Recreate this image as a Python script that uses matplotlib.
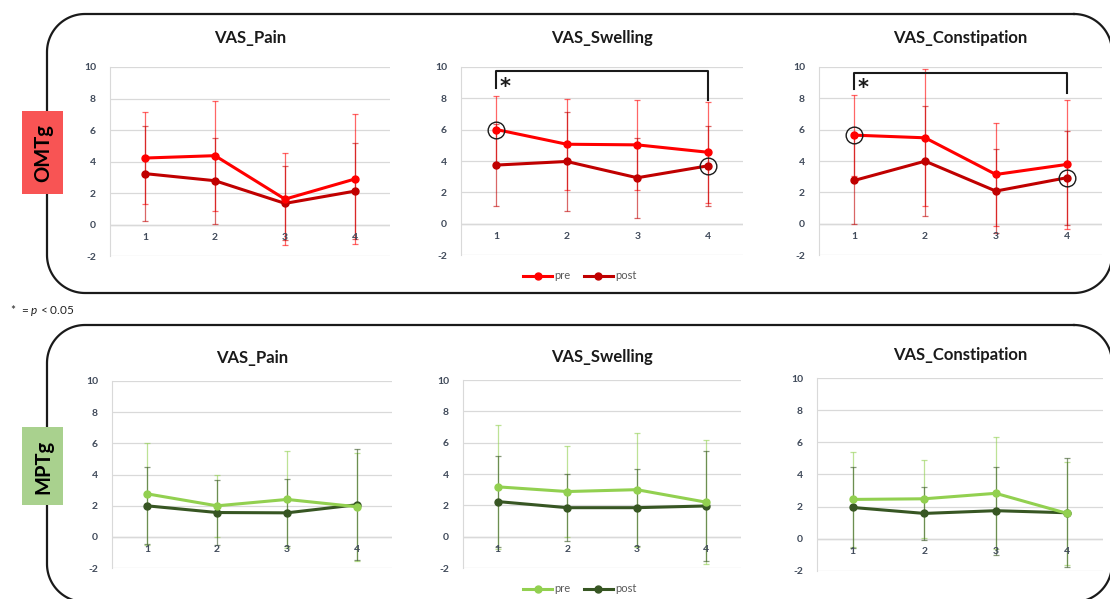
import matplotlib.pyplot as plt
import numpy as np
from matplotlib.patches import Rectangle

# %% DATA
visits = [1, 2, 3, 4]
titles = ["VAS_Pain", "VAS_Swelling", "VAS_Constipation"]
y_ticks = [-2, 0, 2, 4, 6, 8, 10]

omt_pain_pre = [4.22, 4.37, 1.61, 2.89]
omt_pain_pre_sd = [2.91, 3.50, 2.91, 4.14]
omt_pain_post = [3.23, 2.78, 1.34, 2.12]
omt_pain_post_sd = [3.00, 2.72, 2.35, 3.06]

omt_swell_pre = [6.01, 5.07, 5.03, 4.56]
omt_swell_pre_sd = [2.14, 2.91, 2.89, 3.21]
omt_swell_post = [3.74, 3.97, 2.93, 3.69]
omt_swell_post_sd = [2.59, 3.16, 2.57, 2.55]

omt_const_pre = [5.65, 5.48, 3.14, 3.78]
omt_const_pre_sd = [2.59, 4.37, 3.31, 4.14]
omt_const_post = [2.76, 3.99, 2.08, 2.93]
omt_const_post_sd = [2.76, 3.50, 2.70, 2.99]

mpt_pain_pre = [2.76, 1.99, 2.40, 1.93]
mpt_pain_pre_sd = [3.28, 1.97, 3.10, 3.46]
mpt_pain_post = [1.99, 1.56, 1.54, 2.06]
mpt_pain_post_sd = [2.46, 2.08, 2.16, 3.57]

mpt_swell_pre = [3.18, 2.88, 3.00, 2.20]
mpt_swell_pre_sd = [3.94, 2.92, 3.63, 3.96]
mpt_swell_post = [2.24, 1.85, 1.85, 1.96]
mpt_swell_post_sd = [2.92, 2.12, 2.46, 3.50]

mpt_const_pre = [2.45, 2.49, 2.83, 1.58]
mpt_const_pre_sd = [2.93, 2.42, 3.49, 3.18]
mpt_const_post = [1.95, 1.58, 1.75, 1.62]
mpt_const_post_sd = [2.54, 1.66, 2.74, 3.39]

# significance brackets (top, left leg end, right leg end) for OMTg panels
brackets = {1: (9.72, 8.68, 7.88), 2: (9.62, 8.62, 8.34)}

# %% STYLE
plt.rcParams["font.family"] = ["Lato", "DejaVu Sans"]
plt.rcParams["mathtext.fontset"] = "custom"
plt.rcParams["mathtext.it"] = "Lato:italic"
plt.rcParams["axes.unicode_minus"] = False

W, H = 1110, 599
fig = plt.figure(figsize=(W / 100, H / 100), dpi=100)

# background axes in pixel coordinates for boxes and labels
bg = fig.add_axes([0, 0, 1, 1])
bg.set_xlim(0, W)
bg.set_ylim(H, 0)
bg.set_axis_off()


def rounded_box(x0, y0, x1, y1, r):
    # Corner centres walked clockwise on screen (y grows downward)
    corners = [
        (x1 - r, y0 + r, -90, 0),
        (x1 - r, y1 - r, 0, 90),
        (x0 + r, y1 - r, 90, 180),
        (x0 + r, y0 + r, 180, 270),
    ]
    xs, ys = [], []
    for cx, cy, a0, a1 in corners:
        t = np.radians(np.linspace(a0, a1, 30))
        xs.extend(cx + r * np.cos(t))
        ys.extend(cy + r * np.sin(t))
    xs.append(xs[0])
    ys.append(ys[0])
    bg.plot(xs, ys, color="#1a1a1a", lw=1.6, zorder=1)


rounded_box(47, 14, 1112, 293, 38)
rounded_box(47, 325, 1112, 602, 38)

bg.add_patch(Rectangle((22, 111), 41, 83, fc="#F85454", ec="none", zorder=2))
bg.text(43, 153, "OMTg", rotation=90, ha="center", va="center",
        fontsize=14.5, fontweight="bold", color="black", zorder=3)
bg.add_patch(Rectangle((22, 427), 41, 78, fc="#A9D18E", ec="none", zorder=2))
bg.text(43, 467, "MPTg", rotation=90, ha="center", va="center",
        fontsize=14.5, fontweight="bold", color="black", zorder=3)
bg.text(10, 311, "*  = $p$ < 0.05", ha="left", va="center", fontsize=8.5,
        color="#222222")


def px_axes(left, top, right, bottom):
    return fig.add_axes(
        [left / W, 1 - bottom / H, (right - left) / W, (bottom - top) / H]
    )


top_rects = [(110, 67, 390, 256), (461, 67, 743, 255), (819, 67, 1102, 255)]
bot_rects = [(112, 381, 392, 568), (463, 380, 741, 568), (817, 378, 1103, 571)]

omt_series = [
    (omt_pain_pre, omt_pain_pre_sd, omt_pain_post, omt_pain_post_sd),
    (omt_swell_pre, omt_swell_pre_sd, omt_swell_post, omt_swell_post_sd),
    (omt_const_pre, omt_const_pre_sd, omt_const_post, omt_const_post_sd),
]
mpt_series = [
    (mpt_pain_pre, mpt_pain_pre_sd, mpt_pain_post, mpt_pain_post_sd),
    (mpt_swell_pre, mpt_swell_pre_sd, mpt_swell_post, mpt_swell_post_sd),
    (mpt_const_pre, mpt_const_pre_sd, mpt_const_post, mpt_const_post_sd),
]

groups = [
    (top_rects, omt_series, "#FF0000", "#C00000", 276),
    (bot_rects, mpt_series, "#92D050", "#375623", 589),
]

for g, (rects, series, c_pre, c_post, leg_y) in enumerate(groups):
    for i, (rect, (pre, pre_sd, post, post_sd)) in enumerate(zip(rects, series)):
        ax = px_axes(*rect)
        ax.set_xlim(0.5, 4.5)
        ax.set_ylim(-2, 10)
        ax.set_yticks(y_ticks)
        ax.set_xticks([])
        ax.tick_params(axis="y", length=0, labelsize=7.5, labelcolor="#404a5a", pad=10)
        for lab in ax.get_yticklabels():
            lab.set_fontweight("bold")
        for s in ["top", "right", "bottom"]:
            ax.spines[s].set_visible(False)
        ax.spines["left"].set_color("#D9D9D9")
        ax.grid(axis="y", color="#D9D9D9", lw=0.9)
        ax.axhline(0, color="#BFBFBF", lw=0.9, zorder=1)
        ax.set_title(titles[i], fontsize=12, fontweight="bold", color="#1a1a1a",
                     pad=17 if g == 0 else 13)

        ax.errorbar(visits, pre, yerr=pre_sd, fmt="none", ecolor=c_pre,
                    elinewidth=0.9, capsize=2.5, capthick=0.9, alpha=0.6, zorder=2)
        ax.errorbar(visits, post, yerr=post_sd, fmt="none", ecolor=c_post,
                    elinewidth=0.9, capsize=2.5, capthick=0.9, alpha=0.6, zorder=2)
        ax.plot(visits, pre, "-o", color=c_pre, lw=2.2, ms=5, zorder=4, label="pre")
        ax.plot(visits, post, "-o", color=c_post, lw=2.2, ms=5, zorder=3, label="post")

        for v in visits:
            ax.annotate(str(v), (v, 0), xytext=(0, -6), textcoords="offset points",
                        ha="center", va="top", fontsize=7.5, fontweight="bold",
                        color="#404a5a", zorder=5)

        if g == 0 and i in brackets:
            top_y, left_y, right_y = brackets[i]
            ax.plot([1, 1, 4, 4], [left_y, top_y, top_y, right_y], color="#1a1a1a",
                    lw=1.5, clip_on=False, zorder=5)
            ax.text(1.05, left_y + 0.05, "*", fontsize=15, fontweight="bold",
                    family="DejaVu Sans", ha="left", va="center", color="#1a1a1a")
            ax.plot([visits[0]], [pre[0]], "o", mfc="none", mec="#1a1a1a", ms=12,
                    mew=1.0, zorder=6)
            ax.plot([visits[3]], [post[3]], "o", mfc="none", mec="#1a1a1a", ms=12,
                    mew=1.0, zorder=6)

        if i == 1:
            ax.legend(loc="center", bbox_to_anchor=(580 / W, 1 - leg_y / H),
                      bbox_transform=fig.transFigure, ncol=2, frameon=False,
                      fontsize=8, handlelength=2.6, columnspacing=1.2,
                      handletextpad=0.2, labelcolor="#595959")

fig.savefig("out.png", dpi=100)
